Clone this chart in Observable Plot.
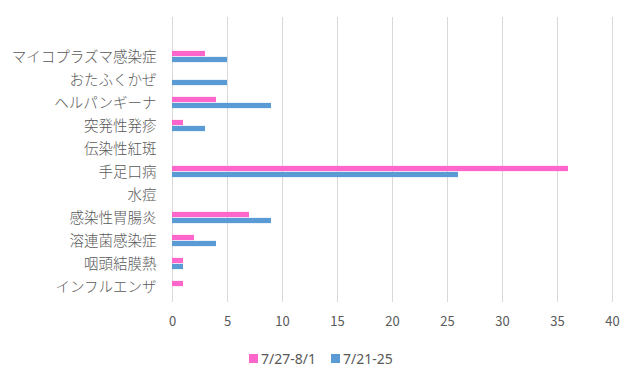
<!DOCTYPE html>
<html>
<head>
<meta charset="utf-8">
<script src="https://cdn.jsdelivr.net/npm/d3@7"></script>
<script src="https://cdn.jsdelivr.net/npm/@observablehq/plot@0.6"></script>
<style>
  html, body { margin: 0; padding: 0; background: #fff; }
  #chart { width: 640px; }
  .legend { display: flex; justify-content: flex-start; align-items: center; height: 20px; margin-top: 8px; padding-left: 249px;
    font-family: "Noto Sans", "Noto Sans CJK JP", sans-serif; font-size: 14px; color: #595959; }
  .legend span.sw { display: inline-block; width: 9px; height: 9px; margin-right: 3px; }
  .legend .item { display: inline-flex; align-items: center; margin-right: 15px; }
</style>
</head>
<body>
<div id="chart"></div>
<script>
const categories = ["マイコプラズマ感染症", "おたふくかぜ", "ヘルパンギーナ", "突発性発疹", "伝染性紅斑", "手足口病", "水痘", "感染性胃腸炎", "溶連菌感染症", "咽頭結膜熱", "インフルエンザ"];
const seriesNames = ["7/27-8/1", "7/21-25"];
const seriesColors = ["#FF66CC", "#5B9BD5"];
const valuesRecent = [3, 0, 4, 1, 0, 36, 0, 7, 2, 1, 1];
const valuesPrevious = [5, 5, 9, 3, 0, 26, 0, 9, 4, 1, 0];
const xTicks = [0, 5, 10, 15, 20, 25, 30, 35, 40];

const recentData = categories.map((c, i) => ({category: c, value: valuesRecent[i]}));
const previousData = categories.map((c, i) => ({category: c, value: valuesPrevious[i]}));

const bandH = (302 - 17) / 12;
const half = bandH / 2;
const barH = 6;

const chart = Plot.plot({
  width: 640,
  height: 340,
  marginLeft: 172,
  marginRight: 28,
  marginTop: 17,
  marginBottom: 38,
  style: {fontFamily: "'Noto Sans CJK JP', 'Noto Sans', sans-serif", color: "#595959", background: "#fff"},
  x: {domain: [0, 40]},
  y: {domain: [" ", ...categories], padding: 0},
  marks: [
    Plot.gridX(xTicks, {stroke: "#d9d9d9", strokeOpacity: 1, strokeWidth: 1}),
    Plot.barX(recentData, {x: "value", y: "category", fill: seriesColors[0], insetTop: half - barH, insetBottom: half}),
    Plot.barX(previousData, {x: "value", y: "category", fill: seriesColors[1], insetTop: half, insetBottom: half - barH}),
    Plot.axisX({ticks: xTicks, tickSize: 0, tickPadding: 14, fontSize: 13, fill: "#595959", label: null}),
    Plot.axisY({tickSize: 0, tickPadding: 16, fontSize: 14.5, fontWeight: 300, fill: "#595959", label: null})
  ]
});
document.getElementById("chart").appendChild(chart);

const legend = document.createElement("div");
legend.className = "legend";
seriesNames.forEach((name, i) => {
  const item = document.createElement("span");
  item.className = "item";
  const sw = document.createElement("span");
  sw.className = "sw";
  sw.style.background = seriesColors[i];
  item.appendChild(sw);
  item.appendChild(document.createTextNode(name));
  legend.appendChild(item);
});
document.getElementById("chart").appendChild(legend);
</script>
</body>
</html>
